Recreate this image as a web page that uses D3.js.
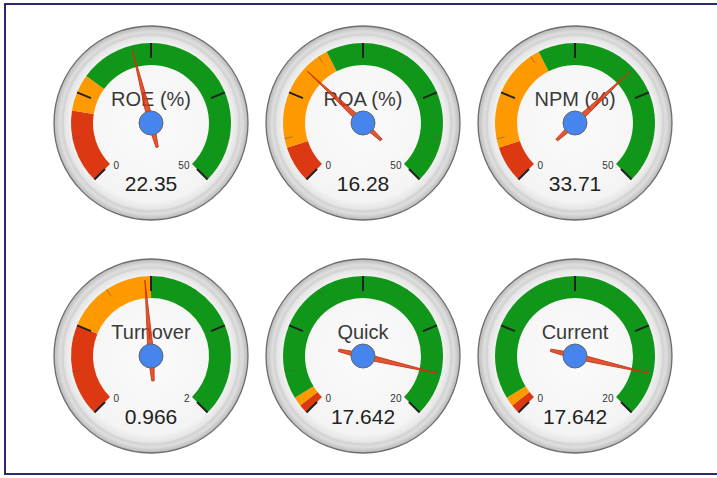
<!DOCTYPE html>
<html>
<head>
<meta charset="utf-8">
<script src="https://cdn.jsdelivr.net/npm/d3@7"></script>
<style>
  body { margin: 0; background: #fff; }
  svg { display: block; font-family: Arial, "Liberation Sans", sans-serif; }
</style>
</head>
<body>
<svg id="chart" width="717" height="478"></svg>
<script>
// gauge data
var titles   = ["ROE (%)", "ROA (%)", "NPM (%)", "Turnover", "Quick", "Current"];
var values   = [22.35, 16.28, 33.71, 0.966, 17.642, 17.642];
var maxes    = [50, 50, 50, 2, 20, 20];
var redTo    = [10, 5, 5, 0.5, 0.5, 0.5];
var yellowTo = [15, 20, 20, 1, 1, 1];

var width = 717, height = 478;
var svg = d3.select("#chart");

// frame (right edge runs off the page)
svg.append("rect")
    .attr("x", 5).attr("y", 4)
    .attr("width", 740).attr("height", 470)
    .attr("fill", "none")
    .attr("stroke", "#2c2a6c")
    .attr("stroke-width", 2);

var defs = svg.append("defs");
var ring = defs.append("radialGradient").attr("id", "ring");
ring.append("stop").attr("offset", "0.86").attr("stop-color", "#c2c2c2");
ring.append("stop").attr("offset", "0.94").attr("stop-color", "#dedede");
ring.append("stop").attr("offset", "1").attr("stop-color", "#b8b8b8");

var face = defs.append("radialGradient").attr("id", "face");
face.append("stop").attr("offset", "0").attr("stop-color", "#fbfbfb");
face.append("stop").attr("offset", "0.9").attr("stop-color", "#f4f4f4");
face.append("stop").attr("offset", "1").attr("stop-color", "#e4e4e4");

var cols = d3.scalePoint().domain([0, 1, 2]).range([151, 575]);
var rows = d3.scalePoint().domain([0, 1]).range([123, 356]);

var R = 97, faceR = 87, bandIn = 58, bandOut = 80;
var colors = {red: "#dc3912", yellow: "#ff9900", green: "#109618"};

titles.forEach(function(title, i) {
    var g = svg.append("g")
	.attr("transform", "translate(" + cols(i % 3) + "," + rows(Math.floor(i / 3)) + ")");
    var angle = d3.scaleLinear()
	.domain([0, maxes[i]])
	.range([-135 * Math.PI / 180, 135 * Math.PI / 180]);

    g.append("circle").attr("r", R)
	.attr("fill", "url(#ring)")
	.attr("stroke", "#6e6e6e").attr("stroke-width", 1.3);
    g.append("circle").attr("r", faceR)
	.attr("fill", "url(#face)")
	.attr("stroke", "#e2e2e2").attr("stroke-width", 1);

    var bands = [
	{from: 0, to: redTo[i], color: colors.red},
	{from: redTo[i], to: yellowTo[i], color: colors.yellow},
	{from: yellowTo[i], to: maxes[i], color: colors.green}
    ];
    var arc = d3.arc().innerRadius(bandIn).outerRadius(bandOut);
    g.selectAll("path.band")
	.data(bands)
	.enter()
	.append("path")
	.attr("class", "band")
	.attr("d", d => arc({startAngle: angle(d.from), endAngle: angle(d.to)}))
	.attr("fill", d => d.color);

    // ticks: 4 major intervals, one minor in each
    var majorTicks = d3.range(5).map(k => maxes[i] * k / 4);
    var minorTicks = d3.range(4).map(k => maxes[i] * (k + 0.5) / 4);
    g.selectAll("line.major")
	.data(majorTicks)
	.enter()
	.append("line")
	.attr("class", "major")
	.attr("x1", d => Math.sin(angle(d)) * 65)
	.attr("y1", d => -Math.cos(angle(d)) * 65)
	.attr("x2", d => Math.sin(angle(d)) * bandOut)
	.attr("y2", d => -Math.cos(angle(d)) * bandOut)
	.attr("stroke", "#222")
	.attr("stroke-width", 2);
    g.selectAll("line.minor")
	.data(minorTicks)
	.enter()
	.append("line")
	.attr("class", "minor")
	.attr("x1", d => Math.sin(angle(d)) * 72)
	.attr("y1", d => -Math.cos(angle(d)) * 72)
	.attr("x2", d => Math.sin(angle(d)) * bandOut)
	.attr("y2", d => -Math.cos(angle(d)) * bandOut)
	.attr("stroke", "#555")
	.attr("stroke-width", 0.8)
	.attr("opacity", 0.6);

    // end labels
    g.append("text")
	.attr("x", Math.sin(angle(0)) * 53)
	.attr("y", -Math.cos(angle(0)) * 53 + 9)
	.attr("font-size", 10)
	.attr("fill", "#333")
	.text("0");
    g.append("text")
	.attr("x", Math.sin(angle(maxes[i])) * 53 + 1)
	.attr("y", -Math.cos(angle(maxes[i])) * 53 + 9)
	.attr("text-anchor", "end")
	.attr("font-size", 10)
	.attr("fill", "#333")
	.text(maxes[i]);

    g.append("text")
	.attr("y", -17)
	.attr("text-anchor", "middle")
	.attr("font-size", 20)
	.attr("fill", "#3a3a3a")
	.text(title);

    g.append("text")
	.attr("y", 68)
	.attr("text-anchor", "middle")
	.attr("font-size", 21)
	.attr("fill", "#222")
	.text(values[i]);

    // needle
    var deg = angle(values[i]) * 180 / Math.PI;
    g.append("path")
	.attr("d", "M0,-76 L3,0 L1.2,25 L-1.2,25 L-3,0 Z")
	.attr("transform", "rotate(" + deg + ")")
	.attr("fill", colors.red)
	.attr("fill-opacity", 0.85)
	.attr("stroke", "#c63310")
	.attr("stroke-width", 0.8);

    g.append("circle").attr("r", 12)
	.attr("fill", "#4684ee")
	.attr("stroke", "#666").attr("stroke-width", 1);
});
</script>
</body>
</html>
